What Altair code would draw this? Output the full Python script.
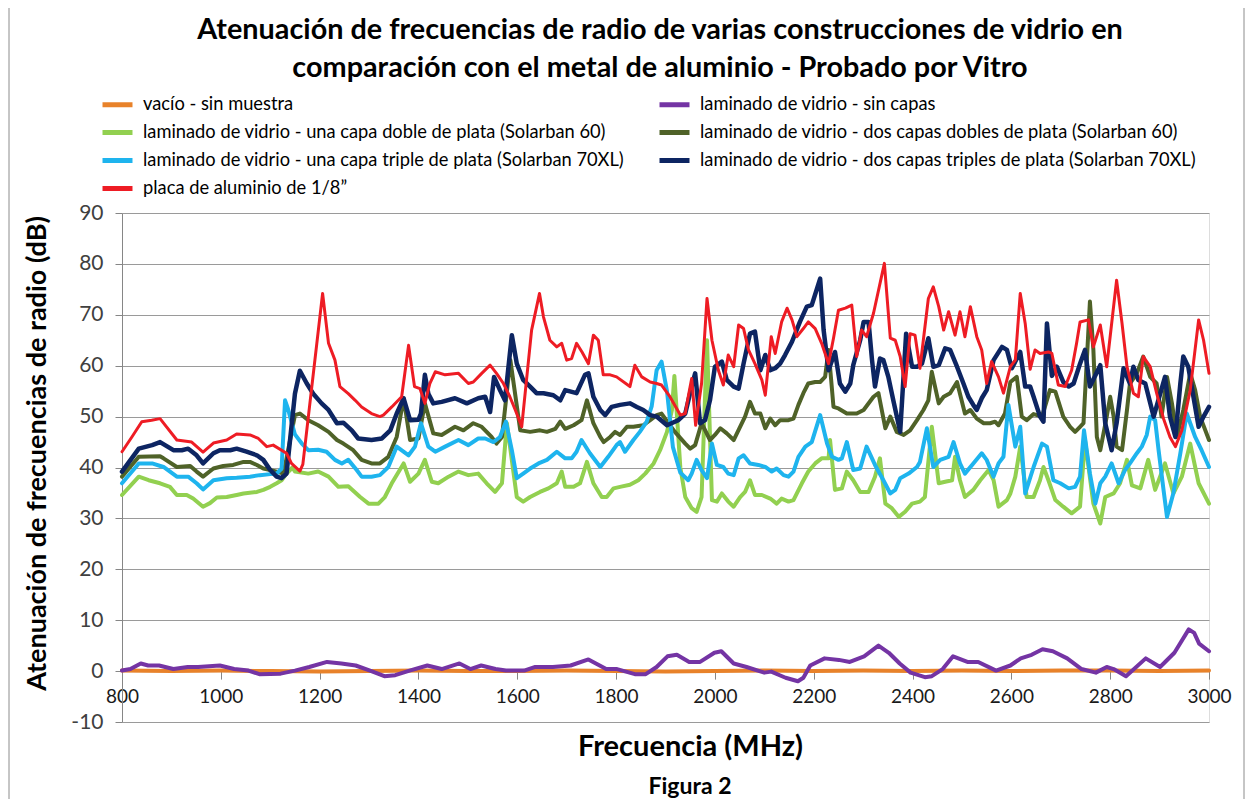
import altair as alt
import pandas as pd

FONT = "Lato"
W, H = 1087, 509

names = [
    "vacío - sin muestra",
    "laminado de vidrio - sin capas",
    "laminado de vidrio - una capa doble de plata (Solarban 60)",
    "laminado de vidrio - dos capas dobles de plata (Solarban 60)",
    "laminado de vidrio - una capa triple de plata (Solarban 70XL)",
    "laminado de vidrio - dos capas triples de plata (Solarban 70XL)",
    "placa de aluminio de 1/8\u201d",
]
colors = ["#E8822A", "#7434A4", "#92D050", "#4F6228", "#1EB4EE", "#0D2562", "#EE1C24"]
widths = [4, 4, 4, 4, 4, 4.5, 3]

title_lines = [
    "Atenuación de frecuencias de radio de varias construcciones de vidrio en",
    "comparación con el metal de aluminio - Probado por Vitro",
]
x_title = "Frecuencia (MHz)"
y_title = "Atenuación de frecuencias de radio (dB)"
caption = "Figura 2"
x_ticks = list(range(800, 3001, 200))
y_ticks = list(range(-10, 91, 10))

vacio = [(800,0.1),(900,0.0),(1000,0.1),(1100,0.0),(1200,-0.1),(1300,0.0),(1400,0.1),(1500,0.0),
         (1600,0.0),(1700,0.1),(1800,0.0),(1900,-0.1),(2000,0.0),(2100,0.1),(2200,0.0),(2300,0.1),
         (2400,0.0),(2500,0.1),(2600,0.0),(2700,0.1),(2800,0.1),(2900,0.0),(3000,0.1)]

sin_capas = [(800,0.1),(817,0.4),(838,1.5),(853,1.1),(875,1.1),(904,0.4),(933,0.8),(954,0.8),(998,1.1),
             (1027,0.4),(1056,0.1),(1078,-0.6),(1121,-0.5),(1150,0.1),(1179,0.8),(1215,1.8),(1244,1.5),
             (1273,1.1),(1302,0.1),(1331,-1.0),(1353,-0.8),(1382,0.1),(1418,1.1),(1447,0.4),(1483,1.5),
             (1505,0.4),(1527,1.1),(1556,0.4),(1577,0.1),(1614,0.1),(1635,0.8),(1672,0.8),(1708,1.1),
             (1744,2.3),(1780,0.4),(1802,0.4),(1838,-0.6),(1860,-0.6),(1882,0.8),(1904,2.9),(1923,3.2),
             (1948,1.8),(1970,1.8),(1999,3.6),(2013,3.9),(2038,1.5),(2064,0.8),(2100,-0.3),(2114,-0.1),
             (2143,-1.3),(2168,-2.0),(2179,-1.3),(2193,1.1),(2222,2.5),(2251,2.2),(2273,1.8),(2302,2.9),
             (2331,5.0),(2352,3.6),(2374,1.5),(2396,-0.3),(2425,-1.2),(2439,-1.0),(2461,0.4),(2482,2.9),
             (2511,1.8),(2533,1.8),(2569,0.1),(2598,1.1),(2619,2.5),(2641,3.2),(2663,4.3),(2684,3.9),
             (2713,2.5),(2742,0.4),(2771,-0.3),(2793,0.8),(2807,0.4),(2832,-1.0),(2872,2.5),(2901,0.8),
             (2930,3.6),(2959,8.2),(2970,7.5),(2980,5.4),(3000,3.9)]

una_doble = [(800,34.6),(834,38.2),(854,37.5),(877,36.9),(897,36.2),(911,34.6),(931,34.6),(944,33.9),
             (964,32.3),(978,33.0),(992,34.1),(1012,34.2),(1032,34.6),(1046,34.9),(1073,35.2),(1086,35.6),
             (1100,36.2),(1113,36.9),(1123,37.5),(1133,38.8),(1145,40.0),(1150,39.2),(1177,38.8),(1197,39.2),
             (1218,38.2),(1238,36.2),(1258,36.3),(1282,34.2),(1299,32.9),(1319,32.9),(1332,34.2),(1346,36.9),
             (1370,40.8),(1383,37.2),(1400,38.8),(1413,41.5),(1427,37.2),(1440,36.9),(1461,38.2),(1481,39.2),
             (1501,38.5),(1521,38.8),(1538,36.9),(1555,35.2),(1569,36.9),(1579,48.7),(1599,34.2),(1612,33.3),
             (1626,34.2),(1646,35.2),(1663,35.9),(1680,36.9),(1690,39.2),(1697,36.2),(1714,36.2),(1727,36.9),
             (1741,41.1),(1754,36.9),(1771,34.2),(1781,34.2),(1795,35.9),(1808,36.2),(1828,36.6),(1845,37.5),
             (1859,38.8),(1876,40.8),(1889,43.4),(1903,47.0),(1913,51.3),(1918,58.0),(1930,40.0),(1940,34.2),
             (1953,32.0),(1963,31.3),(1973,34.2),(1984,65.0),(1994,33.6),(2004,33.3),(2014,34.9),(2027,33.3),
             (2038,32.3),(2051,34.2),(2061,35.2),(2071,37.5),(2081,34.6),(2095,34.6),(2112,33.9),(2125,32.9),
             (2135,33.9),(2149,33.3),(2159,33.6),(2176,36.9),(2189,39.2),(2203,40.8),(2216,41.8),(2230,41.8),
             (2233,45.4),(2243,35.6),(2257,35.9),(2267,39.2),(2280,37.5),(2294,35.2),(2311,35.2),(2324,38.2),
             (2334,41.8),(2345,32.9),(2358,32.0),(2372,30.3),(2385,31.3),(2399,32.9),(2415,33.3),(2425,34.2),
             (2439,48.0),(2453,36.9),(2466,37.2),(2480,37.5),(2486,42.1),(2496,37.5),(2506,34.2),(2523,35.6),
             (2537,37.5),(2554,39.5),(2564,37.5),(2574,32.3),(2591,33.6),(2598,34.9),(2608,38.2),(2618,44.1),
             (2631,34.2),(2645,34.2),(2658,37.5),(2665,40.1),(2675,37.5),(2689,33.6),(2705,32.3),(2722,31.0),
             (2739,32.3),(2749,45.4),(2766,32.9),(2780,29.0),(2790,34.2),(2807,34.9),(2820,36.9),(2834,41.5),
             (2844,36.5),(2861,35.9),(2877,41.5),(2891,35.6),(2911,40.8),(2928,34.9),(2945,38.2),(2962,44.7),
             (2979,36.9),(3000,32.9)]

dos_dobles = [(800,38.2),(834,42.1),(877,42.2),(884,41.8),(911,40.1),(938,40.3),(951,39.2),(964,38.2),
              (985,39.8),(1005,40.3),(1025,40.5),(1046,41.1),(1059,41.1),(1073,40.5),(1086,39.8),(1100,39.5),
              (1113,39.2),(1127,38.8),(1150,50.3),(1160,50.6),(1177,49.3),(1197,48.3),(1218,47.0),(1235,45.4),
              (1248,44.7),(1268,43.4),(1285,41.5),(1305,40.8),(1322,40.8),(1339,42.1),(1356,46.0),(1370,53.6),
              (1383,45.4),(1400,45.7),(1413,52.6),(1430,46.7),(1447,46.4),(1474,48.0),(1491,47.3),(1511,48.7),
              (1528,48.0),(1548,46.0),(1558,44.7),(1569,46.0),(1586,61.1),(1606,47.3),(1626,47.0),(1646,47.3),
              (1660,47.0),(1677,47.6),(1687,49.0),(1697,47.6),(1714,48.3),(1730,49.3),(1741,53.2),(1754,48.7),
              (1768,46.0),(1775,45.0),(1788,46.0),(1798,47.0),(1808,46.4),(1822,48.0),(1835,48.0),(1855,48.3),
              (1869,49.3),(1882,50.3),(1892,50.6),(1906,48.7),(1919,47.0),(1940,44.7),(1950,43.7),(1960,44.4),
              (1973,48.7),(1990,45.4),(2000,46.4),(2011,47.7),(2024,46.7),(2038,45.4),(2061,50.0),(2071,52.9),
              (2081,50.6),(2092,50.6),(2102,47.7),(2112,49.6),(2122,48.3),(2132,49.3),(2149,49.3),(2159,49.6),
              (2169,52.3),(2179,54.6),(2189,56.5),(2203,56.8),(2213,56.8),(2223,57.8),(2230,63.1),(2240,51.9),
              (2250,51.6),(2267,50.6),(2287,50.6),(2301,51.3),(2321,53.9),(2331,54.6),(2345,47.7),(2355,50.0),
              (2368,47.0),(2382,46.4),(2395,47.3),(2409,49.3),(2422,51.3),(2432,53.2),(2439,58.8),(2453,52.6),
              (2463,53.9),(2476,54.6),(2490,56.8),(2506,50.6),(2517,51.3),(2530,49.6),(2544,48.7),(2557,48.7),
              (2567,49.0),(2574,48.3),(2587,50.6),(2598,56.8),(2611,57.8),(2621,50.0),(2631,49.3),(2645,50.5),
              (2662,50.0),(2678,55.2),(2689,54.9),(2705,50.0),(2719,48.0),(2729,47.0),(2739,48.0),(2746,48.7),
              (2759,72.6),(2766,63.1),(2773,46.0),(2780,43.4),(2793,50.0),(2800,53.9),(2807,50.0),(2813,44.1),
              (2824,43.4),(2834,51.3),(2840,56.5),(2854,58.5),(2867,61.8),(2881,57.8),(2894,56.5),(2904,50.0),
              (2915,57.8),(2925,52.6),(2935,46.0),(2948,51.3),(2962,58.5),(2972,55.2),(2982,50.0),(3000,45.4)]

una_triple = [(800,36.9),(834,40.8),(861,40.8),(884,40.1),(911,38.2),(934,38.2),(951,36.9),(964,35.7),
              (985,37.5),(1012,37.9),(1032,38.0),(1059,38.2),(1079,38.5),(1100,38.7),(1113,38.8),(1123,39.8),
              (1130,53.2),(1136,51.5),(1150,46.5),(1164,44.7),(1177,43.4),(1197,43.5),(1214,43.1),(1231,41.5),
              (1245,40.8),(1258,41.5),(1275,39.5),(1285,38.2),(1305,38.2),(1322,38.5),(1339,40.1),(1356,44.1),
              (1380,42.4),(1393,44.1),(1405,48.7),(1420,44.1),(1434,43.1),(1454,44.1),(1481,45.4),(1501,44.4),
              (1521,45.7),(1535,45.7),(1552,45.0),(1565,46.0),(1577,49.0),(1589,43.4),(1599,37.9),(1612,38.8),
              (1626,39.8),(1643,40.8),(1660,41.5),(1680,43.1),(1697,41.8),(1710,41.8),(1720,43.1),(1730,45.4),
              (1747,42.8),(1768,40.1),(1784,42.1),(1801,44.4),(1808,45.0),(1818,43.1),(1835,45.4),(1848,47.0),
              (1862,49.0),(1872,52.0),(1882,59.1),(1892,60.8),(1903,55.0),(1915,44.0),(1930,39.0),(1946,37.5),
              (1953,38.8),(1963,41.5),(1973,39.5),(1984,37.9),(1994,44.7),(2004,40.5),(2017,40.1),(2027,38.8),
              (2038,38.5),(2048,41.8),(2058,42.4),(2071,40.8),(2088,40.5),(2102,40.1),(2115,39.2),(2125,39.8),
              (2139,38.5),(2149,38.2),(2159,39.2),(2169,42.1),(2183,44.1),(2196,45.0),(2213,50.3),(2227,44.7),
              (2237,42.1),(2250,41.5),(2257,41.8),(2267,45.0),(2280,39.5),(2294,39.8),(2307,44.1),(2324,40.5),
              (2341,37.5),(2355,34.9),(2365,35.6),(2375,37.9),(2392,38.8),(2409,40.1),(2415,41.1),(2429,47.7),
              (2442,40.1),(2456,41.5),(2473,42.1),(2483,45.0),(2496,40.8),(2506,38.8),(2523,40.8),(2540,42.8),
              (2550,41.5),(2564,38.2),(2574,40.8),(2584,42.1),(2594,52.3),(2608,44.1),(2618,48.0),(2628,34.9),
              (2645,40.1),(2662,44.7),(2672,44.1),(2685,37.5),(2699,36.9),(2716,35.9),(2729,36.2),(2739,38.2),
              (2747,47.3),(2759,38.8),(2770,32.9),(2780,36.9),(2790,38.2),(2803,40.8),(2817,36.9),(2830,39.5),
              (2840,40.8),(2854,42.8),(2864,44.1),(2874,46.4),(2881,50.0),(2891,49.3),(2898,43.4),(2908,35.6),
              (2915,30.3),(2928,35.0),(2942,42.8),(2955,50.6),(2972,46.0),(2985,43.4),(3000,40.1)]

dos_triples = [(800,39.2),(834,43.7),(861,44.4),(877,45.0),(904,43.4),(921,43.4),(934,43.7),(951,42.4),
               (964,40.8),(985,42.8),(998,43.4),(1019,43.4),(1032,43.7),(1052,43.1),(1073,42.4),(1086,41.5),
               (1100,39.5),(1113,38.2),(1123,37.9),(1133,38.8),(1150,54.5),(1160,59.0),(1174,56.5),(1187,54.5),
               (1204,52.6),(1218,51.3),(1235,48.7),(1248,48.8),(1265,47.3),(1278,45.7),(1305,45.4),(1326,45.7),
               (1343,47.3),(1356,50.6),(1370,53.6),(1383,49.3),(1400,49.4),(1405,50.6),(1413,58.2),(1420,54.5),
               (1430,52.6),(1447,52.9),(1474,53.6),(1498,52.6),(1521,53.6),(1535,53.9),(1545,50.9),(1553,57.8),
               (1565,55.2),(1575,53.2),(1589,66.0),(1599,60.4),(1612,57.2),(1626,55.9),(1639,54.6),(1653,54.6),
               (1673,54.2),(1687,53.2),(1697,55.2),(1720,54.6),(1737,58.2),(1744,58.5),(1754,53.9),(1768,51.3),
               (1778,50.3),(1791,51.9),(1808,52.3),(1828,52.6),(1842,51.9),(1855,51.3),(1869,50.3),(1882,50.0),
               (1903,48.3),(1919,49.0),(1926,49.3),(1940,50.6),(1953,55.9),(1960,58.5),(1970,48.7),(1980,49.3),
               (1990,53.2),(2000,59.8),(2014,60.8),(2024,57.2),(2038,55.9),(2048,55.5),(2058,60.4),(2071,66.3),
               (2081,66.7),(2092,59.1),(2102,62.1),(2112,59.1),(2122,59.5),(2132,60.4),(2142,62.1),(2156,64.7),
               (2172,68.6),(2186,71.6),(2196,71.9),(2213,77.1),(2220,67.0),(2230,59.1),(2243,62.7),(2253,56.5),
               (2264,54.9),(2274,56.5),(2280,60.1),(2294,65.0),(2301,68.6),(2311,68.6),(2318,61.1),(2324,55.9),
               (2334,61.4),(2341,61.1),(2351,57.8),(2361,53.2),(2375,47.0),(2387,66.3),(2399,59.8),(2409,59.8),
               (2419,60.4),(2432,65.4),(2442,59.8),(2453,60.1),(2466,63.4),(2476,63.1),(2490,59.8),(2503,56.5),
               (2513,53.9),(2523,52.3),(2530,51.3),(2540,53.6),(2550,55.2),(2564,61.1),(2581,63.7),(2591,63.1),
               (2601,59.5),(2618,62.7),(2628,55.9),(2638,55.9),(2645,53.9),(2658,50.0),(2665,49.0),(2672,68.3),
               (2682,58.0),(2692,59.8),(2705,56.8),(2716,55.9),(2726,56.5),(2739,60.4),(2749,63.1),(2759,55.9),
               (2780,60.1),(2790,48.7),(2803,43.4),(2813,48.7),(2827,59.5),(2840,56.5),(2847,59.8),(2857,57.2),
               (2871,56.5),(2888,50.0),(2911,57.8),(2921,50.0),(2932,46.0),(2942,56.5),(2948,61.8),(2958,59.8),
               (2979,48.0),(2989,50.0),(3000,51.9)]

placa = [(800,43.1),(820,46.0),(840,49.0),(860,49.3),(877,49.6),(911,45.4),(941,45.0),(964,43.0),(985,44.8),
         (1012,45.4),(1032,46.6),(1059,46.4),(1076,45.7),(1093,44.1),(1106,44.4),(1133,42.8),(1143,40.8),
         (1160,39.3),(1166,40.6),(1206,74.2),(1218,64.4),(1231,61.1),(1241,55.9),(1258,54.5),(1272,53.2),
         (1285,51.9),(1305,50.6),(1322,50.0),(1329,50.3),(1346,51.9),(1366,53.9),(1380,64.0),(1392,55.9),
         (1403,55.5),(1413,52.6),(1423,56.5),(1434,58.8),(1454,58.2),(1481,58.5),(1501,56.5),(1511,56.8),
         (1528,58.5),(1545,60.1),(1558,58.5),(1572,56.5),(1585,53.9),(1596,51.3),(1609,48.0),(1629,67.0),
         (1645,74.2),(1653,69.6),(1666,65.0),(1680,63.7),(1690,64.4),(1700,61.1),(1710,61.4),(1720,64.4),
         (1731,62.7),(1744,60.4),(1754,66.0),(1764,65.0),(1774,58.2),(1788,58.2),(1801,57.8),(1828,55.9),
         (1838,60.1),(1852,57.8),(1869,56.8),(1882,56.5),(1892,56.2),(1909,53.9),(1930,50.3),(1940,50.6),
         (1946,53.9),(1953,57.5),(1961,48.3),(1973,56.5),(1984,73.2),(1994,65.0),(2007,59.1),(2017,56.2),
         (2027,62.1),(2038,59.8),(2048,68.0),(2058,67.3),(2068,63.1),(2081,60.4),(2095,57.2),(2102,54.2),
         (2114,65.7),(2122,62.4),(2135,68.6),(2146,71.3),(2156,69.0),(2166,65.7),(2179,67.3),(2189,68.6),
         (2203,67.3),(2216,64.4),(2230,60.4),(2240,65.4),(2250,70.9),(2264,71.3),(2277,71.9),(2287,61.8),
         (2297,67.0),(2307,65.7),(2321,70.3),(2343,80.1),(2355,65.4),(2365,65.0),(2375,61.8),(2385,55.9),
         (2395,66.3),(2405,66.0),(2415,59.5),(2432,73.2),(2442,75.5),(2453,71.6),(2463,67.0),(2473,70.6),
         (2486,66.0),(2496,70.6),(2506,65.7),(2517,71.6),(2530,65.7),(2540,63.1),(2550,56.5),(2560,60.8),
         (2574,57.8),(2584,54.6),(2598,59.8),(2608,61.1),(2618,74.2),(2628,68.3),(2638,59.3),(2648,63.1),
         (2658,62.4),(2675,62.7),(2682,62.4),(2695,56.2),(2709,55.9),(2722,59.1),(2732,64.4),(2739,68.6),
         (2756,69.0),(2766,63.7),(2780,68.0),(2793,59.8),(2813,76.8),(2824,68.3),(2834,59.8),(2847,54.6),
         (2857,53.9),(2867,61.8),(2881,59.8),(2894,54.6),(2908,49.6),(2921,46.0),(2932,44.1),(2945,47.3),
         (2962,55.2),(2979,69.0),(2989,65.0),(3000,58.5)]

series = [vacio, sin_capas, una_doble, dos_dobles, una_triple, dos_triples, placa]

rows = []
for name, pts in zip(names, series):
    for i, (f, v) in enumerate(pts):
        rows.append({"serie": name, "freq": f, "db": v, "idx": i})
df = pd.DataFrame(rows)

color_scale = alt.Scale(domain=names, range=colors)

legend = alt.Legend(
    title=None, orient="none", direction="horizontal", legendX=-22, legendY=-126, columns=2,
    columnPadding=24, rowPadding=-2, symbolType="stroke", symbolSize=900,
    symbolStrokeWidth=5, labelFont=FONT, labelFontSize=18.3, labelColor="#000000",
    labelOffset=8, labelLimit=800, padding=0,
)

x_enc = alt.X(
    "freq:Q",
    scale=alt.Scale(domain=[800, 3000], nice=False, zero=False),
    axis=alt.Axis(
        values=x_ticks, labelExpr="'' + datum.value", title=x_title, offset=-H * 0.1, grid=False,
        domainColor="#868686", tickColor="#868686", tickSize=8, labelPadding=8,
        labelFont=FONT, labelFontSize=19, labelColor="#1a1a1a", labelFlush=False,
        labelOverlap=False,
        titleFont=FONT, titleFontSize=29, titleFontWeight="bold", titleColor="#000000",
        titleX=568, titleY=75, titleAlign="center", titleBaseline="middle",
    ),
)
y_enc = alt.Y(
    "db:Q",
    scale=alt.Scale(domain=[-10, 90], nice=False, zero=False),
    axis=alt.Axis(
        values=y_ticks, labelExpr="'' + datum.value", title=y_title, grid=True, gridColor="#9a9a9a",
        gridWidth=1, domainColor="#868686", tickColor="#868686", tickSize=7,
        labelPadding=12, labelFont=FONT, labelFontSize=21, labelColor="#404040",
        titleFont=FONT, titleFontSize=27, titleFontWeight="bold", titleColor="#000000",
        titleX=-85, titleY=240, titleAngle=270, titleAlign="center", titleBaseline="middle",
    ),
)

layers = []
for i, name in enumerate(names):
    layers.append(
        alt.Chart(df)
        .transform_filter(alt.datum.serie == name)
        .mark_line(strokeWidth=widths[i], strokeJoin="round", strokeCap="round")
        .encode(
            x=x_enc,
            y=y_enc,
            order="idx:Q",
            color=alt.Color("serie:N", scale=color_scale, legend=legend),
        )
    )

one = pd.DataFrame({"t": [0]})

frame = alt.Chart(one).mark_rect(fillOpacity=0, stroke="#8c8c8c", strokeWidth=1).encode(
    x=alt.value(-113), x2=alt.value(1122), y=alt.value(-230), y2=alt.value(600)
)

t1 = alt.Chart(pd.DataFrame({"t": [title_lines[0]]})).mark_text(
    font=FONT, fontSize=28.8, fontWeight="bold", color="#000000", align="center", baseline="middle"
).encode(text="t:N", x=alt.value(538), y=alt.value(-183))
t2 = alt.Chart(pd.DataFrame({"t": [title_lines[1]]})).mark_text(
    font=FONT, fontSize=28.8, fontWeight="bold", color="#000000", align="center", baseline="middle"
).encode(text="t:N", x=alt.value(538), y=alt.value(-145))
cap = alt.Chart(pd.DataFrame({"t": [caption]})).mark_text(
    font=FONT, fontSize=23, fontWeight="bold", color="#000000", align="center", baseline="middle"
).encode(text="t:N", x=alt.value(568), y=alt.value(574))

chart = alt.layer(frame, *layers, t1, t2, cap).properties(
    width=W, height=H,
    autosize=alt.AutoSizeParams(type="none"),
    padding={"left": 114, "top": 205, "right": 36, "bottom": 77},
).configure_view(stroke="#8c8c8c", strokeWidth=1).configure(background="white")

chart.save("out.html", embed_options={"renderer": "svg", "actions": False})
